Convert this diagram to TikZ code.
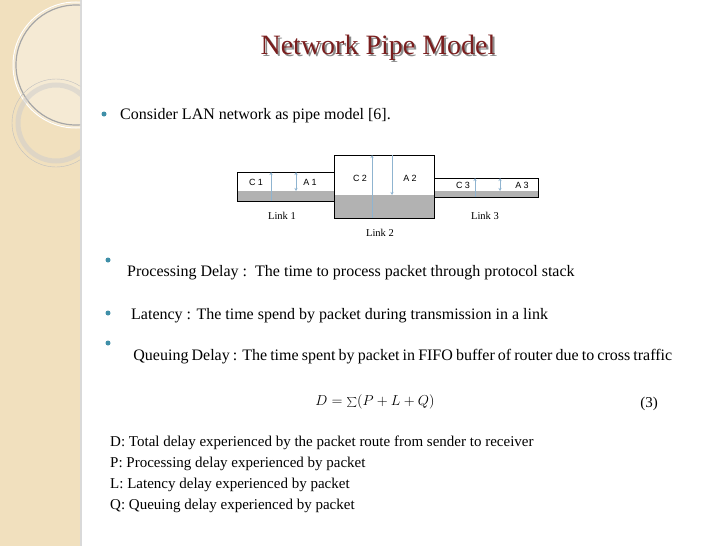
\documentclass[tikz,border=0pt]{standalone}
\usepackage{fontspec}
\setmainfont{Liberation Serif}
\newfontfamily\sansf{Liberation Sans}
\usetikzlibrary{arrows.meta}
\definecolor{side}{HTML}{F1E0BE}
\definecolor{ttl}{HTML}{7A1E1E}
\definecolor{bul}{HTML}{3F8FA8}
\definecolor{arr}{HTML}{8FB4D0}
\tikzset{x=1pt,y=-1pt,
 pipe/.style={draw=black,line width=1pt},
 gr/.style={fill=black!30},
 dim/.style={draw=arr,line width=0.6pt,-{Stealth[length=3pt,width=3pt]}},
 dd/.style={draw=arr,line width=0.6pt,{Stealth[length=3pt,width=3pt]}-{Stealth[length=3pt,width=3pt]}},
 lab/.style={font=\sansf\fontsize{9}{10}\selectfont},
 lk/.style={font=\fontsize{10.5}{12}\selectfont},
 txt/.style={font=\fontsize{16}{19}\selectfont,anchor=west,inner sep=0},
 dot/.style={circle,fill=bul,inner sep=0,minimum size=5pt}}
\begin{document}
\begin{tikzpicture}
\useasboundingbox (0,0) rectangle (728,546);
\fill[white] (0,0) rectangle (728,546);
\fill[side] (0,0) rectangle (80,546);
\fill[black!15] (80,0) rectangle (82,546);
\begin{scope}
\clip (0,0) rectangle (80,546);
\fill[white,opacity=0.35] (76,65) circle (62);
\draw[black!35,line width=1.2pt] (76,65) circle (60);
\draw[white,line width=1pt] (76,65) circle (63);
\draw[black!20,line width=5pt,opacity=0.5] (56,123) circle (38);
\draw[black!25,line width=0.4pt] (56,123) circle (44);
\end{scope}
% title
\node[font=\fontsize{28}{32}\selectfont,text=black!45] (tsh) at (380,50) {Network Pipe Model};
\node[font=\fontsize{28}{32}\selectfont,text=ttl] (t) at (378,48) {Network Pipe Model};
\node[dot] (b1) at (104,114) {};
\node[txt] (l1) at (120,116) {Consider LAN network as pipe model [6].};
% pipes
\fill[gr] (237,191) rectangle (334,201);
\fill[gr] (334,195) rectangle (434,218);
\fill[gr] (434,191) rectangle (538,197);
\draw[pipe] (237,172) rectangle (334,201);
\draw[pipe] (334,155) rectangle (434,218);
\draw[pipe] (434,178) rectangle (538,197);
\begin{scope}[y=1pt]
\coordinate (c1a) at (271,-201); \coordinate (c1b) at (271,-172);
\coordinate (a1a) at (296,-172); \coordinate (a1b) at (296,-191);
\coordinate (c2a) at (372,-218); \coordinate (c2b) at (372,-155);
\coordinate (a2a) at (392,-155); \coordinate (a2b) at (392,-195);
\coordinate (c3a) at (475,-197); \coordinate (c3b) at (475,-178);
\coordinate (a3a) at (500,-178); \coordinate (a3b) at (500,-191);
\draw[dim] (c1a) -- (c1b);
\draw[dd] (a1a) -- (a1b);
\draw[dim] (c2a) -- (c2b);
\draw[dim] (a2a) -- (a2b);
\draw[dim] (c3a) -- (c3b);
\draw[dd] (a3a) -- (a3b);
\end{scope}
\node[lab] (nc1) at (256,182) {C 1};
\node[lab] (na1) at (310,182) {A 1};
\node[lab] (nc2) at (360,178) {C 2};
\node[lab] (na2) at (410,178) {A 2};
\node[lab] (nc3) at (463,185) {C 3};
\node[lab] (na3) at (522,185) {A 3};
\node[lk] (k1) at (282,216) {Link 1};
\node[lk] (k2) at (380,233) {Link 2};
\node[lk] (k3) at (485,216) {Link 3};
% bullets
\node[dot] (b2) at (108,260) {};
\node[dot] (b3) at (108,313) {};
\node[dot] (b4) at (108,343) {};
\node[txt,text width=545pt,align=justify] (p1) at (127,273) {Processing Delay~:\ \ The time to process packet through protocol stack};
\node[txt] (p2) at (127,316) {\ Latency : The time spend by packet during transmission in a link};
\node[txt,text width=545pt,align=justify] (p3) at (127,357) {\ \ Queuing Delay : The time spent by packet in FIFO buffer of router due to cross traffic};
\node[font=\fontsize{15}{17}\selectfont] (eq) at (375,402) {$D=\sum(P+L+Q)$};
\node[font=\fontsize{15}{17}\selectfont] (eqn) at (649,404) {(3)};
\tikzset{bt/.style={font=\fontsize{15}{17}\selectfont,anchor=west,inner sep=0}}
\node[bt] (d1) at (110,443) {D: Total delay experienced by the packet route from sender to receiver};
\node[bt] (d2) at (110,464) {P: Processing delay experienced by packet};
\node[bt] (d3) at (110,485) {L: Latency delay experienced by packet};
\node[bt] (d4) at (110,506) {Q: Queuing delay experienced by packet};
\end{tikzpicture}
\end{document}
